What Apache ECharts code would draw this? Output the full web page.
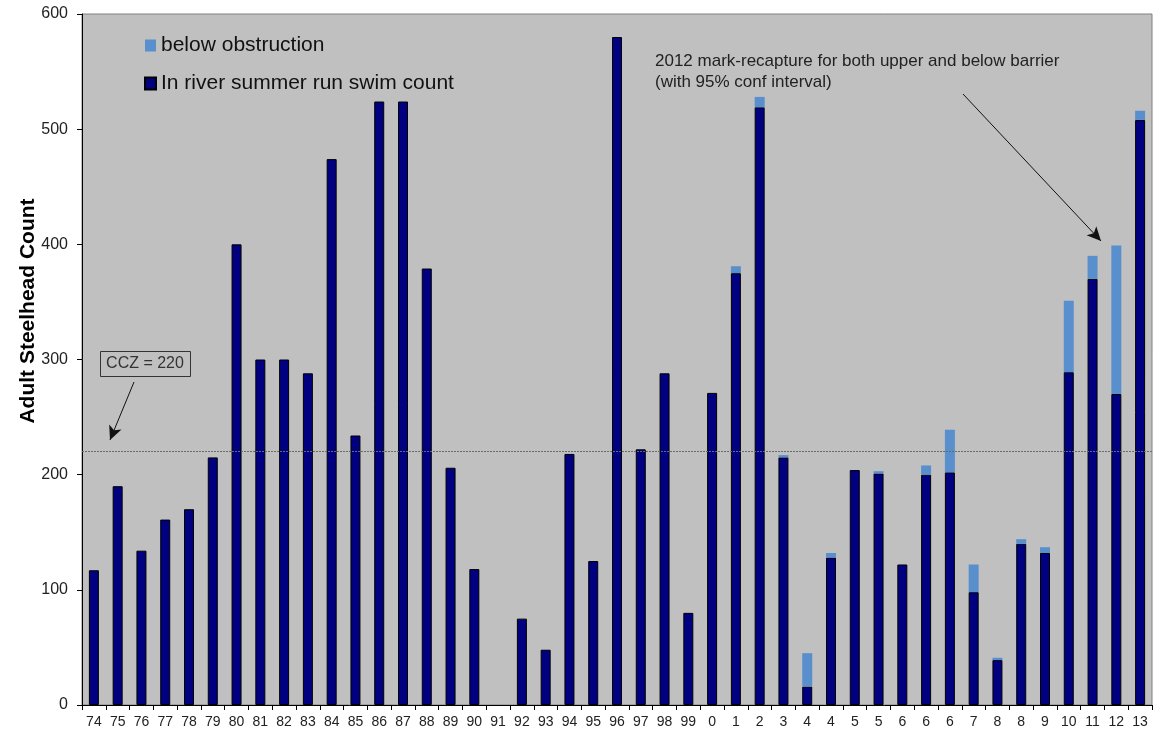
<!DOCTYPE html>
<html>
<head>
<meta charset="utf-8">
<script src="https://cdn.jsdelivr.net/npm/echarts@6.0.0/dist/echarts.min.js"></script>
<style>
html,body{margin:0;padding:0;background:#fff;}
#chart{width:1156px;height:739px;}
</style>
</head>
<body>
<div id="chart"></div>
<script>
// ---- data ----
const categories = ['74','75','76','77','78','79','80','81','82','83','84','85','86','87','88','89','90','91','92','93','94','95','96','97','98','99',
  '0','1','2','3','4','4','5','5','6','6','6','7','8','8','9','10','11','12','13'];
const inRiverCount = [117,190,134,161,170,215,400,300,300,288,474,234,524,524,379,206,118,null,75,48,218,125,580,222,288,80,
  271,375,519,215,16,128,204,201,122,200,202,98,39,140,132,289,370,270,508];
const belowObstruction = [0,0,0,0,0,0,0,0,0,0,0,0,0,0,0,0,0,0,0,0,0,0,0,0,0,0,
  0,6,9,2,29,4,0,2,0,8,37,24,2,4,5,62,20,129,8];
const yTicks = {min:0, max:600, interval:100};
const ccz = 220;
const seriesNames = ['In river summer run swim count','below obstruction'];
const cczLabel = 'CCZ = 220';
const noteText = '2012 mark-recapture for both upper and below barrier\n(with 95% conf interval)';
const yTitle = 'Adult Steelhead Count';

const FONT = 'Liberation Sans, Arial, sans-serif';
const chart = echarts.init(document.getElementById('chart'), null, {renderer:'canvas'});

const option = {
  backgroundColor:'#ffffff',
  animation:false,
  grid:{left:82, right:4, top:14, bottom:34, show:true, backgroundColor:'#C0C0C0', borderColor:'#808080', borderWidth:1, containLabel:false},
  legend:{
    data:[{name:seriesNames[1], icon:'rect'}, {name:seriesNames[0], icon:'rect'}],
    orient:'vertical', left:139, top:30,
    itemWidth:11, itemHeight:12, itemGap:17,
    textStyle:{fontFamily:FONT, fontSize:21, color:'#111'},
    selectedMode:false
  },
  xAxis:{
    type:'category', data:categories,
    axisLine:{show:true, lineStyle:{color:'#000', width:1}},
    axisTick:{show:true, alignWithLabel:false, length:5, lineStyle:{color:'#000'}},
    axisLabel:{interval:0, fontFamily:FONT, fontSize:14, color:'#222', margin:10},
    splitLine:{show:false}
  },
  yAxis:{
    type:'value', min:yTicks.min, max:yTicks.max, interval:yTicks.interval,
    axisLine:{show:true, lineStyle:{color:'#000', width:1}},
    axisTick:{show:true, length:5, lineStyle:{color:'#000'}},
    axisLabel:{fontFamily:FONT, fontSize:16, color:'#222', margin:14},
    splitLine:{show:false}
  },
  series:[
    {
      name:seriesNames[0], type:'bar', stack:'total', data:inRiverCount, barWidth:10,
      itemStyle:{color:'#000080', borderColor:'#000', borderWidth:1},
      markLine:{
        silent:true, symbol:['none','none'], label:{show:false},
        lineStyle:{color:'#6a6a6a', type:[2,1], width:1},
        data:[{yAxis:ccz}]
      }
    },
    {
      name:seriesNames[1], type:'bar', stack:'total', data:belowObstruction, barWidth:10,
      itemStyle:{color:'#5A8FCE'},
      markLine:{
        silent:true, symbol:['none','arrow'], symbolSize:[10,14], label:{show:false},
        lineStyle:{color:'#111', type:'solid', width:1},
        data:[
          [{x:134, y:382}, {x:110, y:440}],
          [{x:963, y:94}, {x:1101, y:241}]
        ]
      }
    }
  ],
  graphic:[
    {type:'text', x:28, y:311, rotation:Math.PI/2,
      style:{text:yTitle, fontFamily:FONT, fontSize:21, fontWeight:'bold', fill:'#000', align:'center', verticalAlign:'middle'}},
    {type:'rect', shape:{x:100.5, y:351.5, width:90, height:25},
      style:{fill:'none', stroke:'#333', lineWidth:1}},
    {type:'text', x:145, y:364,
      style:{text:cczLabel, fontFamily:FONT, fontSize:16, fill:'#333', align:'center', verticalAlign:'middle'}},
    {type:'text', x:655, y:51,
      style:{text:noteText, fontFamily:FONT, fontSize:17, lineHeight:21, fill:'#222', align:'left', verticalAlign:'top'}}
  ]
};
chart.setOption(option);
</script>
</body>
</html>
